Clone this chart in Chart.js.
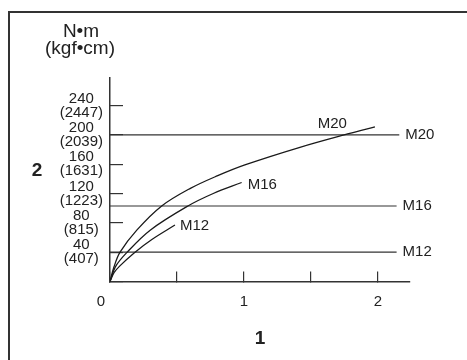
<!DOCTYPE html>
<html>
<head>
<meta charset="utf-8">
<script src="https://cdn.jsdelivr.net/npm/chart.js@4/dist/chart.umd.min.js"></script>
<style>
    html, body { margin: 0; padding: 0; background: #fff; }
    #wrap { width: 467px; height: 360px; }
</style>
</head>
<body>
<div id="wrap"><canvas id="torqueChart" width="467" height="360"></canvas></div>
<script>
// Curve data (x: axis 1, y: N·m)
const m12X = [0, 0.03, 0.072, 0.18, 0.31, 0.485];
const m12Y = [0, 12, 21, 39, 57, 77];
const m16X = [0, 0.04, 0.123, 0.3, 0.582, 0.771, 0.983];
const m16Y = [0, 20, 39, 70, 103, 120, 135];
const m20X = [0, 0.03, 0.075, 0.2, 0.386, 0.6, 0.8, 1.007, 1.418, 1.79, 1.978];
const m20Y = [0, 20, 40, 70, 103, 127, 144, 159, 183, 202, 211];

// Horizontal limit lines
const limitNames = ['M20', 'M16', 'M12'];
const limitValues = [200, 103, 40];
const limitEnds = [2.16, 2.14, 2.14];

// Axis ticks
const yTickValues = [0, 40, 80, 120, 160, 200, 240];
const yTickKgf = ['0', '407', '815', '1223', '1631', '2039', '2447'];
const xTickValues = [0, 0.5, 1, 1.5, 2];
const xTickLabels = ['', '', '1', '', '2'];

const ink = '#222';
const axisColor = '#333';
const fontFamily = '"Liberation Sans", Arial, Helvetica, sans-serif';

function toPoints(xs, ys) {
    return xs.map((x, i) => ({ x: x, y: ys[i] }));
}

const curveStyle = {
    borderColor: '#1a1a1a',
    borderWidth: 1.3,
    pointRadius: 0,
    fill: false,
    tension: 0.35
};

const datasets = [
    Object.assign({ label: 'M12', data: toPoints(m12X, m12Y) }, curveStyle),
    Object.assign({ label: 'M16', data: toPoints(m16X, m16Y) }, curveStyle),
    Object.assign({ label: 'M20', data: toPoints(m20X, m20Y) }, curveStyle)
];

limitNames.forEach((name, i) => {
    datasets.push({
        label: name + ' limit',
        data: [{ x: 0, y: limitValues[i] }, { x: limitEnds[i], y: limitValues[i] }],
        borderColor: axisColor,
        borderWidth: 1.1,
        pointRadius: 0,
        fill: false
    });
});

// Extra text: frame, units, axis names, line labels
const annotate = {
    id: 'annotate',
    afterDraw(chart) {
        const ctx = chart.ctx;
        const xs = chart.scales.x;
        const ys = chart.scales.y;
        ctx.save();

        // frame
        ctx.strokeStyle = axisColor;
        ctx.lineWidth = 2;
        ctx.beginPath();
        ctx.moveTo(9, 360);
        ctx.lineTo(9, 12);
        ctx.lineTo(467, 12);
        ctx.stroke();

        ctx.fillStyle = ink;
        ctx.textBaseline = 'middle';

        // units
        ctx.textAlign = 'center';
        ctx.font = '19px ' + fontFamily;
        ctx.fillText('N•m', 81, 32);
        ctx.fillText('(kgf•cm)', 80, 49);

        // axis names
        ctx.font = 'bold 19px ' + fontFamily;
        ctx.fillText('2', 37, 171);
        ctx.fillText('1', 260, 339);

        // origin
        ctx.font = '15px ' + fontFamily;
        ctx.fillText('0', xs.getPixelForValue(0) - 9, 302);

        // limit line labels
        ctx.textAlign = 'left';
        limitNames.forEach((name, i) => {
            ctx.fillText(name, xs.getPixelForValue(limitEnds[i]) + 6, ys.getPixelForValue(limitValues[i]));
        });

        // curve labels
        const lastM12 = m12X.length - 1;
        const lastM16 = m16X.length - 1;
        ctx.fillText('M12', xs.getPixelForValue(m12X[lastM12]) + 5, ys.getPixelForValue(m12Y[lastM12]) + 1);
        ctx.fillText('M16', xs.getPixelForValue(m16X[lastM16]) + 6, ys.getPixelForValue(m16Y[lastM16]) + 2);
        ctx.textAlign = 'center';
        ctx.fillText('M20', xs.getPixelForValue(1.66), ys.getPixelForValue(213) - 1);

        ctx.restore();
    }
};

new Chart(document.getElementById('torqueChart'), {
    type: 'line',
    data: { datasets: datasets },
    options: {
        responsive: false,
        animation: false,
        layout: { padding: { top: 78, right: 57, left: 0, bottom: 0 } },
        plugins: {
            legend: { display: false },
            tooltip: { enabled: false }
        },
        scales: {
            x: {
                type: 'linear',
                min: 0,
                max: 2.24,
                afterFit: (scale) => { scale.height = 78.5; },
                afterBuildTicks: (scale) => {
                    scale.ticks = xTickValues.map(v => ({ value: v }));
                },
                border: { display: true, color: axisColor, width: 1.5 },
                grid: {
                    drawOnChartArea: false,
                    drawTicks: true,
                    tickLength: -10,
                    color: axisColor,
                    lineWidth: 1.2
                },
                ticks: {
                    color: ink,
                    padding: 21,
                    maxRotation: 0,
                    autoSkip: false,
                    font: { family: fontFamily, size: 15 },
                    callback: (value) => {
                        const i = xTickValues.indexOf(value);
                        return i >= 0 ? xTickLabels[i] : '';
                    }
                }
            },
            y: {
                type: 'linear',
                min: 0,
                max: 277.5,
                afterFit: (scale) => { scale.width = 110; },
                afterBuildTicks: (scale) => {
                    scale.ticks = yTickValues.map(v => ({ value: v }));
                },
                border: { display: true, color: axisColor, width: 1.5 },
                grid: {
                    drawOnChartArea: false,
                    drawTicks: true,
                    tickLength: -13,
                    color: axisColor,
                    lineWidth: 1.2
                },
                ticks: {
                    color: ink,
                    padding: 20,
                    crossAlign: 'center',
                    autoSkip: false,
                    font: { family: fontFamily, size: 15, lineHeight: 0.95 },
                    callback: (value) => {
                        const i = yTickValues.indexOf(value);
                        if (i <= 0) return '';
                        return [String(value), '(' + yTickKgf[i] + ')'];
                    }
                }
            }
        }
    },
    plugins: [annotate]
});
</script>
</body>
</html>
